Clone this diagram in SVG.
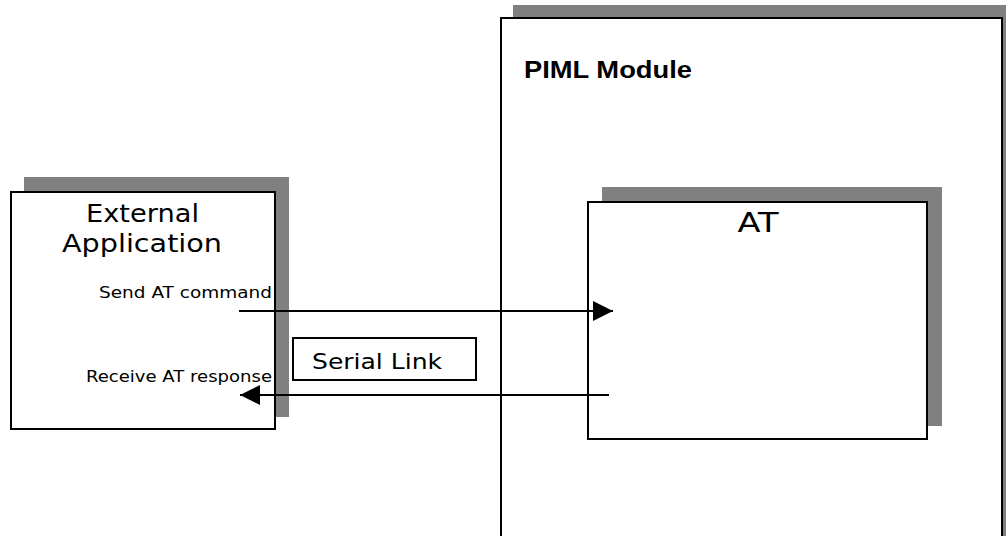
<svg xmlns="http://www.w3.org/2000/svg" width="1006" height="536" viewBox="0 0 1006 536">
<style>
.shadow{fill:#808080;stroke:none}
.box{fill:#ffffff;stroke:#000000;stroke-width:2}
.gt{font-family:"DejaVu Sans","Liberation Sans",sans-serif;fill:#000000}
.bold{font-family:"Liberation Sans",Arial,sans-serif;font-weight:bold;fill:#000000}
.conn{stroke:#000000;stroke-width:2;fill:none}
</style>
<defs>
<marker id="arrow" markerUnits="userSpaceOnUse" markerWidth="22" markerHeight="20" refX="20" refY="10" orient="auto">
<path d="M0,0 L20,10 L0,20 Z" fill="#000000"/>
</marker>
</defs>
<rect width="1006" height="536" fill="#ffffff"/>
<g id="piml-module">
<rect class="shadow" x="513" y="5" width="500" height="540"/>
<rect class="box" x="501" y="18" width="501" height="530"/>
<text class="bold" x="524" y="78" font-size="24" textLength="168" lengthAdjust="spacingAndGlyphs">PIML Module</text>
</g>
<g id="external-application">
<rect class="shadow" x="24" y="177" width="265" height="240"/>
<rect class="box" x="11" y="192" width="264" height="237"/>
<text class="gt" x="86" y="222" font-size="24" textLength="113" lengthAdjust="spacingAndGlyphs">External</text>
<text class="gt" x="62" y="252" font-size="24" textLength="160" lengthAdjust="spacingAndGlyphs">Application</text>
<text class="gt" x="99" y="298" font-size="15" textLength="173" lengthAdjust="spacingAndGlyphs">Send AT command</text>
<text class="gt" x="86" y="382" font-size="15" textLength="186" lengthAdjust="spacingAndGlyphs">Receive AT response</text>
</g>
<g id="at">
<rect class="shadow" x="602" y="187" width="340" height="239"/>
<rect class="box" x="588" y="202" width="339" height="237"/>
<text class="gt" x="758" y="232" font-size="26" text-anchor="middle" textLength="41" lengthAdjust="spacingAndGlyphs">AT</text>
</g>
<g id="serial-link">
<rect class="box" x="293" y="338" width="183" height="42"/>
<text class="gt" x="312" y="369" font-size="22" textLength="130" lengthAdjust="spacingAndGlyphs">Serial Link</text>
</g>
<g id="connectors">
<line class="conn" x1="239" y1="311" x2="613" y2="311" marker-end="url(#arrow)"/>
<line class="conn" x1="609" y1="395" x2="240" y2="395" marker-end="url(#arrow)"/>
</g>
</svg>
